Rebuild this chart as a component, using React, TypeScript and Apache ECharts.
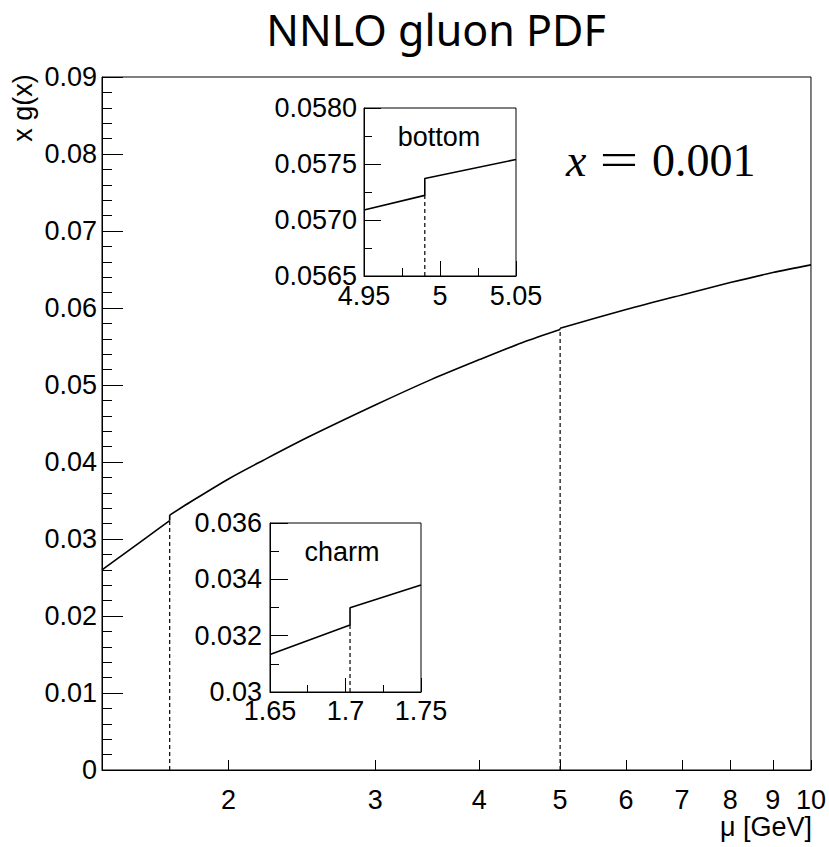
import React, { useEffect, useRef } from "react";
import * as echarts from "echarts";

// ---- Data ----
const MU_MAIN = [1.41, 1.5, 1.6, 1.7, 1.7, 1.8, 2, 2.2, 2.5, 3, 3.5, 4, 4.5, 5, 5, 6, 7, 8, 9, 10];
const XG_MAIN = [
  0.026, 0.0281, 0.0303, 0.0324, 0.0331, 0.0348, 0.0378, 0.0402, 0.0433, 0.0474, 0.0507, 0.0533,
  0.0555, 0.05722, 0.05737, 0.0598, 0.0617, 0.0633, 0.0646, 0.0656,
];
const THRESH_MU = [1.7, 5];
const THRESH_XG = [0.0324, 0.05722];

const BOTTOM_MU = [4.95, 4.99, 4.99, 5.05];
const BOTTOM_XG = [0.05709, 0.05722, 0.05737, 0.05754];
const BOTTOM_DASH_MU = 4.99;
const BOTTOM_DASH_XG = 0.05722;

const CHARM_MU = [1.65, 1.703, 1.703, 1.75];
const CHARM_XG = [0.03133, 0.03238, 0.03299, 0.0338];
const CHARM_DASH_MU = 1.703;
const CHARM_DASH_XG = 0.03238;

const MAIN_X_TICKS = [2, 3, 4, 5, 6, 7, 8, 9, 10];
const MU_MIN = 1.41;
const MU_MAX = 10;

const FONT = "'Liberation Sans', Arial, Helvetica, sans-serif";
const BLACK = "#000";

export default function App() {
  const ref = useRef<HTMLDivElement>(null);

  useEffect(() => {
    if (!ref.current) return;
    const chart = echarts.init(ref.current, undefined, { renderer: "svg" });
    const lg = (v: number) => Math.log10(v);
    const tickLogs = MAIN_X_TICKS.map(lg);

    const axisLabelBase = { color: BLACK, fontSize: 27, fontFamily: FONT };
    const lineBase = { lineStyle: { color: BLACK, width: 1 } };

    // split main curve into smooth segments at the thresholds (repeated mu)
    const segments: number[][][] = [];
    const jumps: number[][][] = [];
    let cur: number[][] = [];
    MU_MAIN.forEach((m, i) => {
      const p = [lg(m), XG_MAIN[i]];
      if (i > 0 && m === MU_MAIN[i - 1]) {
        segments.push(cur);
        jumps.push([cur[cur.length - 1], p]);
        cur = [];
      }
      cur.push(p);
    });
    segments.push(cur);

    const bottomData = BOTTOM_MU.map((m, i) => [m, BOTTOM_XG[i]]);
    const charmData = CHARM_MU.map((m, i) => [m, CHARM_XG[i]]);

    const dashStyle = { color: BLACK, width: 1.2, type: [4, 3] as any };
    const curveStyle = { color: BLACK, width: 1.6 };

    const option: any = {
      animation: false,
      backgroundColor: "#fff",
      grid: [
        { left: 102, top: 77, width: 710, height: 693, show: true, borderColor: BLACK, borderWidth: 1, backgroundColor: "transparent" },
        { left: 364, top: 108, width: 152, height: 168, show: true, borderColor: BLACK, borderWidth: 1, backgroundColor: "#fff" },
        { left: 270, top: 523, width: 151, height: 169, show: true, borderColor: BLACK, borderWidth: 1, backgroundColor: "#fff" },
      ],
      xAxis: [
        {
          gridIndex: 0,
          type: "value",
          min: lg(MU_MIN),
          max: lg(MU_MAX),
          axisLine: { show: true, ...lineBase },
          axisTick: { show: true, inside: true, length: 10, customValues: tickLogs, lineStyle: { color: BLACK, width: 1 } },
          axisLabel: {
            ...axisLabelBase,
            customValues: tickLogs,
            margin: 16,
            formatter: (v: number) => String(Math.round(Math.pow(10, v))),
          },
          splitLine: { show: false },
        },
        {
          gridIndex: 1,
          type: "value",
          min: 4.95,
          max: 5.05,
          interval: 0.05,
          axisLine: { show: true, ...lineBase },
          axisTick: { show: true, inside: true, length: 15, lineStyle: { color: BLACK, width: 1 } },
          minorTick: { show: true, splitNumber: 2, length: 8, lineStyle: { color: BLACK, width: 1 } },
          axisLabel: { ...axisLabelBase, margin: 6, showMinLabel: true, showMaxLabel: true },
          splitLine: { show: false },
        },
        {
          gridIndex: 2,
          type: "value",
          min: 1.65,
          max: 1.75,
          interval: 0.05,
          axisLine: { show: true, ...lineBase },
          axisTick: { show: true, inside: true, length: 14, lineStyle: { color: BLACK, width: 1 } },
          minorTick: { show: true, splitNumber: 2, length: 7, lineStyle: { color: BLACK, width: 1 } },
          axisLabel: { ...axisLabelBase, margin: 5, showMinLabel: true, showMaxLabel: true },
          splitLine: { show: false },
        },
      ],
      yAxis: [
        {
          gridIndex: 0,
          type: "value",
          min: 0,
          max: 0.09,
          interval: 0.01,
          axisLine: { show: true, ...lineBase },
          axisTick: { show: true, inside: true, length: 21, lineStyle: { color: BLACK, width: 1 } },
          minorTick: { show: true, splitNumber: 5, length: 10, lineStyle: { color: BLACK, width: 1 } },
          axisLabel: { ...axisLabelBase, margin: 5 },
          splitLine: { show: false },
        },
        {
          gridIndex: 1,
          type: "value",
          min: 0.0565,
          max: 0.058,
          interval: 0.0005,
          axisLine: { show: true, ...lineBase },
          axisTick: { show: true, inside: true, length: 17, lineStyle: { color: BLACK, width: 1 } },
          minorTick: { show: true, splitNumber: 2, length: 8, lineStyle: { color: BLACK, width: 1 } },
          axisLabel: { ...axisLabelBase, margin: 7, formatter: (v: number) => v.toFixed(4) },
          splitLine: { show: false },
        },
        {
          gridIndex: 2,
          type: "value",
          min: 0.03,
          max: 0.036,
          interval: 0.002,
          axisLine: { show: true, ...lineBase },
          axisTick: { show: true, inside: true, length: 18, lineStyle: { color: BLACK, width: 1 } },
          minorTick: { show: true, splitNumber: 2, length: 9, lineStyle: { color: BLACK, width: 1 } },
          axisLabel: { ...axisLabelBase, margin: 8 },
          splitLine: { show: false },
        },
      ],
      series: [
        ...segments.map((seg) => ({
          type: "line",
          xAxisIndex: 0,
          yAxisIndex: 0,
          data: seg,
          showSymbol: false,
          smooth: 0.3,
          lineStyle: curveStyle,
          z: 3,
        })),
        ...jumps.map((j) => ({
          type: "line",
          xAxisIndex: 0,
          yAxisIndex: 0,
          data: j,
          showSymbol: false,
          lineStyle: curveStyle,
          z: 3,
        })),
        ...THRESH_MU.map((m, i) => ({
          type: "line",
          xAxisIndex: 0,
          yAxisIndex: 0,
          data: [
            [lg(m), 0],
            [lg(m), THRESH_XG[i]],
          ],
          showSymbol: false,
          lineStyle: dashStyle,
          z: 2,
        })),
        {
          type: "line",
          xAxisIndex: 1,
          yAxisIndex: 1,
          data: bottomData,
          showSymbol: false,
          lineStyle: curveStyle,
          z: 5,
        },
        {
          type: "line",
          xAxisIndex: 1,
          yAxisIndex: 1,
          data: [
            [BOTTOM_DASH_MU, 0.0565],
            [BOTTOM_DASH_MU, BOTTOM_DASH_XG],
          ],
          showSymbol: false,
          lineStyle: dashStyle,
          z: 5,
        },
        {
          type: "line",
          xAxisIndex: 2,
          yAxisIndex: 2,
          data: charmData,
          showSymbol: false,
          lineStyle: curveStyle,
          z: 5,
        },
        {
          type: "line",
          xAxisIndex: 2,
          yAxisIndex: 2,
          data: [
            [CHARM_DASH_MU, 0.03],
            [CHARM_DASH_MU, CHARM_DASH_XG],
          ],
          showSymbol: false,
          lineStyle: dashStyle,
          z: 5,
        },
      ],
      graphic: [
        {
          type: "text",
          x: 436,
          y: 29,
          style: {
            text: "NNLO gluon PDF",
            font: "43px 'Noto Sans', sans-serif",
            fill: BLACK,
            align: "center",
            verticalAlign: "middle",
            textAlign: "center",
            textVerticalAlign: "middle",
          },
        },
        {
          type: "text",
          x: 23,
          y: 108,
          rotation: Math.PI / 2,
          style: {
            text: "x g(x)",
            font: `27px ${FONT}`,
            fill: BLACK,
            align: "center",
            verticalAlign: "middle",
            textAlign: "center",
            textVerticalAlign: "middle",
          },
        },
        {
          type: "text",
          x: 812,
          y: 827,
          style: {
            text: "μ [GeV]",
            font: `27px ${FONT}`,
            fill: BLACK,
            align: "right",
            verticalAlign: "middle",
            textAlign: "right",
            textVerticalAlign: "middle",
          },
        },
        {
          type: "text",
          x: 439,
          y: 137,
          z: 10,
          style: {
            text: "bottom",
            font: `27px ${FONT}`,
            fill: BLACK,
            align: "center",
            verticalAlign: "middle",
            textAlign: "center",
            textVerticalAlign: "middle",
          },
        },
        {
          type: "text",
          x: 342,
          y: 552,
          z: 10,
          style: {
            text: "charm",
            font: `27px ${FONT}`,
            fill: BLACK,
            align: "center",
            verticalAlign: "middle",
            textAlign: "center",
            textVerticalAlign: "middle",
          },
        },
        {
          type: "text",
          x: 566,
          y: 160,
          style: {
            text: "x",
            font: "italic 46px 'Liberation Serif', 'DejaVu Serif', serif",
            fill: BLACK,
            align: "left",
            verticalAlign: "middle",
            textAlign: "left",
            textVerticalAlign: "middle",
          },
        },
        {
          type: "text",
          x: 619,
          y: 160,
          scaleX: 1.5,
          style: {
            text: "=",
            font: "46px 'Liberation Serif', 'DejaVu Serif', serif",
            fill: BLACK,
            align: "center",
            verticalAlign: "middle",
            textAlign: "center",
            textVerticalAlign: "middle",
          },
        },
        {
          type: "text",
          x: 652,
          y: 160,
          style: {
            text: "0.001",
            font: "46px 'Liberation Serif', 'DejaVu Serif', serif",
            fill: BLACK,
            align: "left",
            verticalAlign: "middle",
            textAlign: "left",
            textVerticalAlign: "middle",
          },
        },
      ],
    };

    chart.setOption(option);
    return () => chart.dispose();
  }, []);

  return (
    <div
      ref={ref}
      style={{ position: "absolute", left: 0, top: 0, width: 829, height: 847, background: "#fff" }}
    />
  );
}
